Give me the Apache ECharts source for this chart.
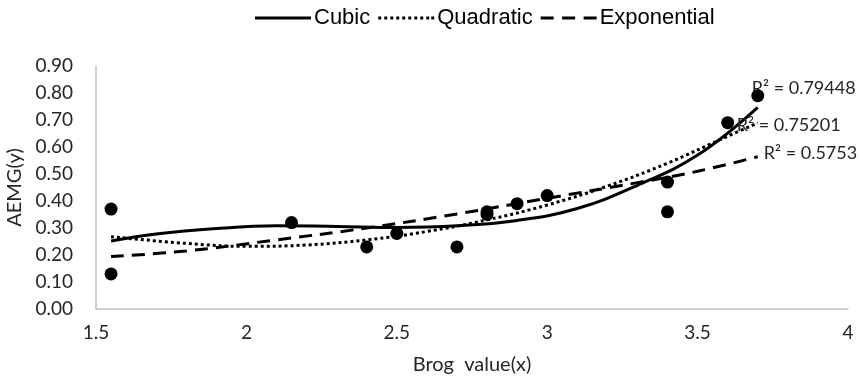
<!DOCTYPE html>
<html>
<head>
<meta charset="utf-8">
<script src="https://cdn.jsdelivr.net/npm/echarts@6/dist/echarts.min.js"></script>
<style>
html,body{margin:0;padding:0;background:#fff;}
#chart{width:863px;height:382px;}
</style>
</head>
<body>
<div id="chart"></div>
<script>
// Observed data points
const obsX = [1.55, 1.55, 2.15, 2.4, 2.5, 2.7, 2.8, 2.8, 2.9, 3.0, 3.4, 3.4, 3.6, 3.7];
const obsY = [0.37, 0.13, 0.32, 0.23, 0.28, 0.23, 0.36, 0.35, 0.39, 0.42, 0.47, 0.36, 0.69, 0.79];

// Trend lines
const cubicX = [1.55, 1.7, 1.9, 2.1, 2.3, 2.5, 2.7, 2.9, 3.1, 3.3, 3.5, 3.7];
const cubicY = [0.252, 0.278, 0.298, 0.308, 0.306, 0.302, 0.308, 0.328, 0.372, 0.458, 0.57, 0.747];

const quadX = [1.55, 1.8, 2.0, 2.2, 2.4, 2.6, 2.8, 3.0, 3.2, 3.4, 3.6, 3.7];
const quadY = [0.268, 0.243, 0.232, 0.237, 0.256, 0.287, 0.33, 0.385, 0.455, 0.54, 0.64, 0.689];

const expX = [1.55, 1.8, 2.1, 2.4, 2.7, 3.0, 3.3, 3.5, 3.7];
const expY = [0.194, 0.215, 0.256, 0.300, 0.352, 0.41, 0.468, 0.51, 0.564];

const seriesNames = ['Cubic', 'Quadratic', 'Exponential'];
const r2Labels = ['R\u00B2 = 0.79448', 'R\u00B2 = 0.75201', 'R\u00B2 = 0.5753'];

const xTickLabels = ['1.5', '2', '2.5', '3', '3.5', '4'];
const yTickLabels = ['0.00', '0.10', '0.20', '0.30', '0.40', '0.50', '0.60', '0.70', '0.80', '0.90'];

const zip = (xs, ys) => xs.map((x, i) => [x, ys[i]]);
const last = (xs, ys) => [xs[xs.length - 1], ys[ys.length - 1]];

const labelFont = 'Lato, "Open Sans", sans-serif';
const txtColor = '#262626';

// legend icons: solid, dotted, dashed strokes
const iconSolid = 'path://M0,0H56V3H0Z';
let dots = '';
for (let i = 0; i <= 8; i++) { dots += 'M' + (i * 6) + ',0h3v3h-3Z'; }
dots += 'M53,0h3v3h-3Z';
const iconDotted = 'path://' + dots;
const iconDashed = 'path://M0,0h13v3h-13ZM21.5,0h13v3h-13ZM43,0h13v3h-13Z';

function r2Mark(xs, ys, text, offset) {
  return {
    silent: true,
    symbol: 'circle',
    symbolSize: 0,
    itemStyle: {color: 'rgba(0,0,0,0)'},
    data: [{coord: last(xs, ys)}],
    label: {
      show: true,
      position: 'right',
      distance: 5,
      formatter: text,
      color: txtColor,
      fontFamily: labelFont,
      fontSize: 18,
      offset: offset
    }
  };
}

const chart = echarts.init(document.getElementById('chart'), null, {renderer: 'canvas'});
chart.setOption({
  animation: false,
  backgroundColor: '#fff',
  textStyle: {fontFamily: labelFont},
  grid: {left: 96, right: 15, top: 66, bottom: 73, containLabel: false, outerBoundsMode: 'none'},
  legend: {
    top: 2,
    left: 250,
    itemWidth: 56,
    itemHeight: 3,
    itemGap: 8,
    symbolKeepAspect: false,
    itemStyle: {color: '#000', borderWidth: 0},
    data: [
      {name: seriesNames[0], icon: iconSolid},
      {name: seriesNames[1], icon: iconDotted},
      {name: seriesNames[2], icon: iconDashed}
    ],
    textStyle: {fontFamily: '"Liberation Sans", Arial, sans-serif', fontSize: 22, color: '#000', padding: [0, 0, 0, -2]}
  },
  xAxis: {
    type: 'value',
    min: 1.5,
    max: 4,
    interval: 0.5,
    name: 'Brog  value(x)',
    nameLocation: 'middle',
    nameGap: 46,
    nameTextStyle: {fontSize: 20, color: txtColor, fontFamily: labelFont},
    axisLine: {show: true, lineStyle: {color: '#bfbfbf', width: 1.5}},
    axisTick: {show: false},
    splitLine: {show: false},
    axisLabel: {
      fontSize: 19, color: txtColor, margin: 14,
      formatter: function (v) { return xTickLabels[Math.round((v - 1.5) / 0.5)]; }
    }
  },
  yAxis: {
    type: 'value',
    min: 0,
    max: 0.9,
    interval: 0.1,
    name: 'AEMG(y)',
    nameLocation: 'middle',
    nameRotate: 90,
    nameGap: 64,
    nameTextStyle: {fontSize: 20, color: txtColor, fontFamily: labelFont},
    axisLine: {show: true, lineStyle: {color: '#bfbfbf', width: 1.5}},
    axisTick: {show: false},
    splitLine: {show: false},
    axisLabel: {
      fontSize: 19, color: txtColor, margin: 23,
      formatter: function (v) { return yTickLabels[Math.round(v * 10)]; }
    }
  },
  series: [
    {
      name: 'Cubic',
      type: 'line',
      data: zip(cubicX, cubicY),
      smooth: 0.4,
      symbol: 'none',
      z: 4,
      lineStyle: {color: '#000', width: 3, type: 'solid'},
      itemStyle: {color: '#000'},
      markPoint: r2Mark(cubicX, cubicY, r2Labels[0], [-11, -19])
    },
    {
      name: 'Quadratic',
      type: 'line',
      data: zip(quadX, quadY),
      smooth: 0.4,
      symbol: 'none',
      z: 3,
      lineStyle: {color: '#000', width: 3, type: [3, 3]},
      itemStyle: {color: '#000'},
      markPoint: r2Mark(quadX, quadY, r2Labels[1], [-26, 2])
    },
    {
      name: 'Exponential',
      type: 'line',
      data: zip(expX, expY),
      smooth: 0.4,
      symbol: 'none',
      z: 3,
      lineStyle: {color: '#000', width: 3, type: [13, 8]},
      itemStyle: {color: '#000'},
      markPoint: r2Mark(expX, expY, r2Labels[2], [1, -4])
    },
    {
      name: 'Data',
      type: 'scatter',
      data: zip(obsX, obsY),
      symbol: 'circle',
      symbolSize: 13,
      z: 5,
      itemStyle: {color: '#000', opacity: 1}
    }
  ]
});
</script>
</body>
</html>
